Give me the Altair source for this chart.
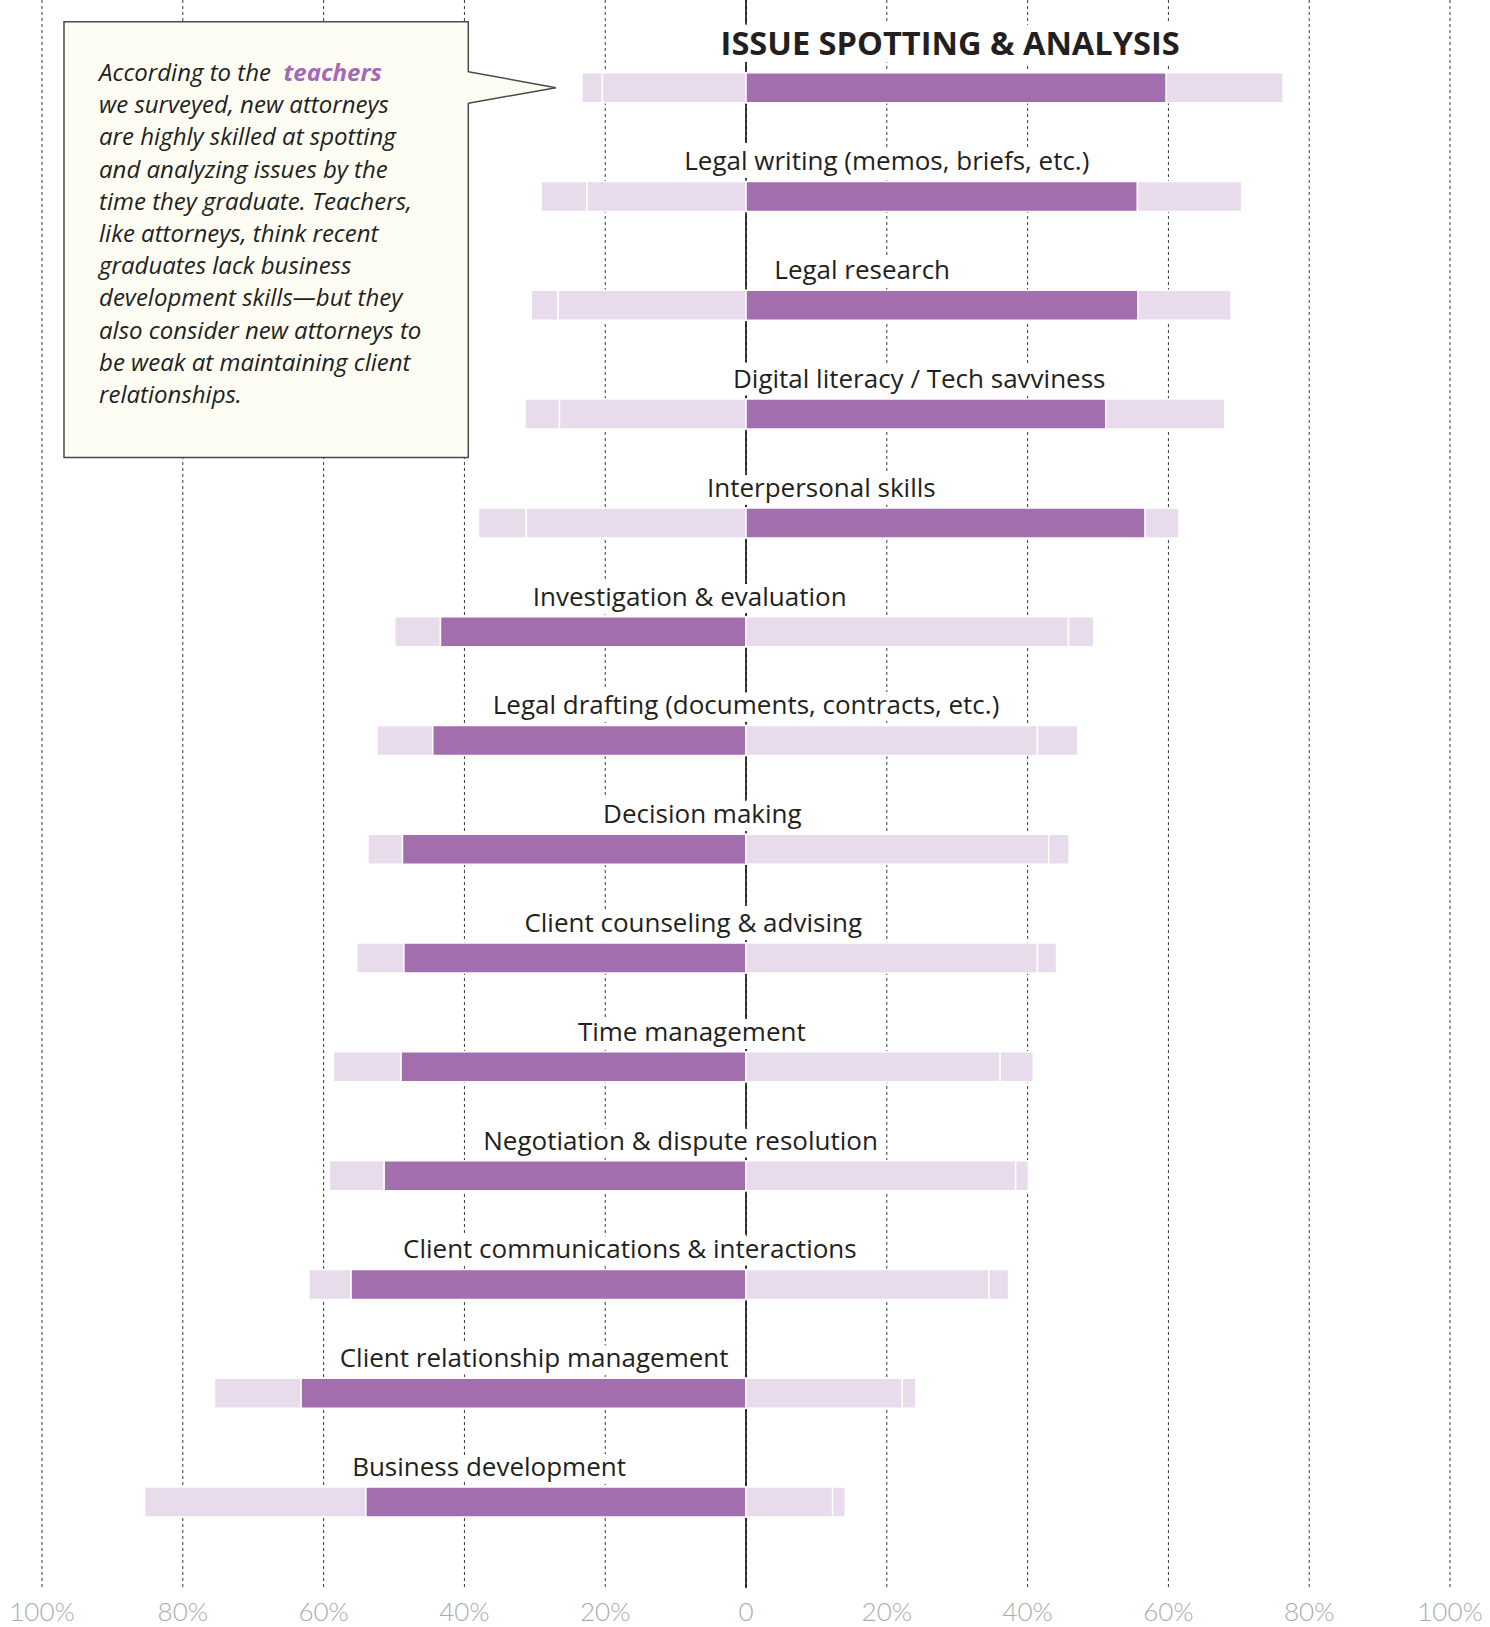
import altair as alt
import pandas as pd

# ---------------- data ----------------
skills = [
    "ISSUE SPOTTING & ANALYSIS",
    "Legal writing (memos, briefs, etc.)",
    "Legal research",
    "Digital literacy / Tech savviness",
    "Interpersonal skills",
    "Investigation & evaluation",
    "Legal drafting (documents, contracts, etc.)",
    "Decision making",
    "Client counseling & advising",
    "Time management",
    "Negotiation & dispute resolution",
    "Client communications & interactions",
    "Client relationship management",
    "Business development",
]
# shares of teachers (%), from the outer left segment to the outer right one
highly_deficient   = [2.9, 6.5, 3.8, 4.9, 6.8, 6.5, 7.9, 4.9, 6.7, 9.6, 7.8, 6.0, 12.3, 31.4]
somewhat_deficient = [20.4, 22.6, 26.7, 26.5, 31.2, 43.4, 44.5, 48.8, 48.6, 49.0, 51.4, 56.1, 63.2, 54.0]
somewhat_skilled   = [59.7, 55.6, 55.7, 51.1, 56.7, 45.8, 41.4, 43.0, 41.4, 36.1, 38.3, 34.5, 22.2, 12.3]
highly_skilled     = [16.6, 14.8, 13.2, 16.9, 4.8, 3.6, 5.7, 2.9, 2.7, 4.7, 1.8, 2.8, 1.9, 1.8]

tick_values = [-100, -80, -60, -40, -20, 0, 20, 40, 60, 80, 100]
tick_labels = ["100%", "80%", "60%", "40%", "20%", "0", "20%", "40%", "60%", "80%", "100%"]

callout_lines = [
    "According to the",
    "we surveyed, new attorneys",
    "are highly skilled at spotting",
    "and analyzing issues by the",
    "time they graduate. Teachers,",
    "like attorneys, think recent",
    "graduates lack business",
    "development skills\u2014but they",
    "also consider new attorneys to",
    "be weak at maintaining client",
    "relationships.",
]
callout_highlight = "teachers"

# ---------------- layout (in axis units) ----------------
label_center = [29.0, 20.0, 16.5, 24.6, 10.7, -8.0, 0.0, -6.2, -7.5, -7.7, -9.3, -16.5, -30.1, -36.5]
X_DOMAIN = [-105.97, 105.68]
Y_DOMAIN = [-0.806, 13.79]
TICK_LABEL_ROW = 14.017
box = dict(x=-96.88, x2=-39.45, y=-0.607, y2=3.399)
pointer = dict(x_base=-39.45, y_top=-0.147, y_bot=0.143, x_tip=-27.0, y_tip=0.0)
text_x, text_y0, text_step = -91.9, -0.062, 0.296
highlight_x = -65.7

DARK = "#a26eae"
LIGHT = "#e7dbec"
INK = "#231f20"

# ---------------- tables ----------------
seg_rows = []
for i, name in enumerate(skills):
    lo, li, ri, ro = highly_deficient[i], somewhat_deficient[i], somewhat_skilled[i], highly_skilled[i]
    left_wins = (lo + li) > (ri + ro)
    seg_rows += [
        dict(row=i, skill=name, segment="Highly deficient", start=-(lo + li), end=-li, tone="light"),
        dict(row=i, skill=name, segment="Somewhat deficient", start=-li, end=0, tone="dark" if left_wins else "light"),
        dict(row=i, skill=name, segment="Somewhat skilled", start=0, end=ri, tone="light" if left_wins else "dark"),
        dict(row=i, skill=name, segment="Highly skilled", start=ri, end=ri + ro, tone="light"),
    ]
segs = pd.DataFrame(seg_rows)
labels = pd.DataFrame(dict(row=list(range(len(skills))), skill=skills, lx=label_center))
ticks = pd.DataFrame(dict(v=tick_values, t=tick_labels, r=[TICK_LABEL_ROW] * len(tick_values)))

xs = alt.Scale(domain=X_DOMAIN, nice=False, zero=False, padding=0)
ys = alt.Scale(domain=Y_DOMAIN, nice=False, zero=False, reverse=True, padding=0)

# grid lines and tick labels
grid = alt.Chart(ticks).mark_rule(color="#3a3a3a", strokeWidth=1, strokeDash=[3, 3]).encode(
    x=alt.X("v:Q", scale=xs, axis=None)
)
tick_text = alt.Chart(ticks).mark_text(
    font="Liberation Sans Narrow, Lato", fontSize=26, fontWeight=300, color="#ababab",
    align="center", baseline="middle"
).encode(
    x=alt.X("v:Q", scale=xs, axis=None), y=alt.Y("r:Q", scale=ys, axis=None), text="t:N"
)

# callout box
box_df = pd.DataFrame([box])
box_layer = alt.Chart(box_df).mark_rect(fill="#fdfdf4", stroke="#4a4a4a", strokeWidth=1.5).encode(
    x=alt.X("x:Q", scale=xs, axis=None), x2="x2:Q",
    y=alt.Y("y:Q", scale=ys, axis=None), y2="y2:Q",
)
ptr_fill = pd.DataFrame(dict(
    x=[pointer["x_base"] - 0.25, pointer["x_tip"]],
    y=[pointer["y_top"], pointer["y_tip"]],
    y2=[pointer["y_bot"], pointer["y_tip"]],
))
ptr_layer = alt.Chart(ptr_fill).mark_area(fill="#fdfdf4", opacity=1).encode(
    x=alt.X("x:Q", scale=xs, axis=None),
    y=alt.Y("y:Q", scale=ys, axis=None), y2="y2:Q",
)
ptr_edges = pd.DataFrame(dict(
    x=[pointer["x_base"], pointer["x_base"]],
    y=[pointer["y_top"], pointer["y_bot"]],
    x2=[pointer["x_tip"], pointer["x_tip"]],
    y2=[pointer["y_tip"], pointer["y_tip"]],
))
ptr_edge_layer = alt.Chart(ptr_edges).mark_rule(color="#4a4a4a", strokeWidth=1.5).encode(
    x=alt.X("x:Q", scale=xs, axis=None), x2="x2:Q",
    y=alt.Y("y:Q", scale=ys, axis=None), y2="y2:Q",
)

lines_df = pd.DataFrame(dict(
    line=callout_lines,
    x=[text_x] * len(callout_lines),
    y=[text_y0 + k * text_step for k in range(len(callout_lines))],
))
callout_text = alt.Chart(lines_df).mark_text(
    align="left", baseline="alphabetic", font="Open Sans", fontSize=24, fontStyle="italic", color=INK
).encode(
    x=alt.X("x:Q", scale=xs, axis=None), y=alt.Y("y:Q", scale=ys, axis=None), text="line:N"
)
hl_df = pd.DataFrame(dict(t=[callout_highlight], x=[highlight_x], y=[text_y0]))
callout_hl = alt.Chart(hl_df).mark_text(
    align="left", baseline="alphabetic", font="Open Sans", fontSize=24, fontStyle="italic",
    fontWeight="bold", color="#a468b7"
).encode(
    x=alt.X("x:Q", scale=xs, axis=None), y=alt.Y("y:Q", scale=ys, axis=None), text="t:N"
)

zero_rule = alt.Chart(pd.DataFrame(dict(z=[0]))).mark_rule(color="black", strokeWidth=1.5).encode(
    x=alt.X("z:Q", scale=xs, axis=None)
)

title_style = dict(font="Open Sans", fontSize=32.6, fontWeight="bold", dy=-32.7, align="center", baseline="alphabetic")
label_style = dict(font="Open Sans", fontSize=26, dy=-26, align="center", baseline="alphabetic")

def text_layer(style, halo, first):
    extra = dict(stroke="white", strokeWidth=16, strokeJoin="round", color="white") if halo else dict(color=INK)
    base = alt.Chart(labels).transform_filter("datum.row == 0" if first else "datum.row > 0")
    return base.mark_text(**style, **extra).encode(
        x=alt.X("lx:Q", scale=xs, axis=None), y=alt.Y("row:Q", scale=ys, axis=None), text="skill:N"
    )

bars = alt.Chart(segs).mark_bar(size=30, orient="horizontal", stroke="white", strokeWidth=1.5).encode(
    x=alt.X("start:Q", scale=xs, axis=None), x2="end:Q",
    y=alt.Y("row:Q", scale=ys, axis=None),
    color=alt.Color("tone:N", scale=alt.Scale(domain=["dark", "light"], range=[DARK, LIGHT]), legend=None),
    tooltip=["skill:N", "segment:N", "start:Q", "end:Q"],
)

chart = alt.layer(
    grid, tick_text,
    box_layer, ptr_layer, ptr_edge_layer,
    zero_rule,
    text_layer(title_style, True, True), text_layer(label_style, True, False),
    bars,
    text_layer(title_style, False, True), text_layer(label_style, False, False),
    callout_text, callout_hl,
).properties(
    width=1490, height=1588,
    autosize=alt.AutoSizeParams(type="none"),
    padding={"left": 0, "top": 0, "right": 0, "bottom": 39},
    background="white",
).configure_view(stroke=None)

chart.save("out.html", embed_options={"renderer": "svg", "actions": False})
